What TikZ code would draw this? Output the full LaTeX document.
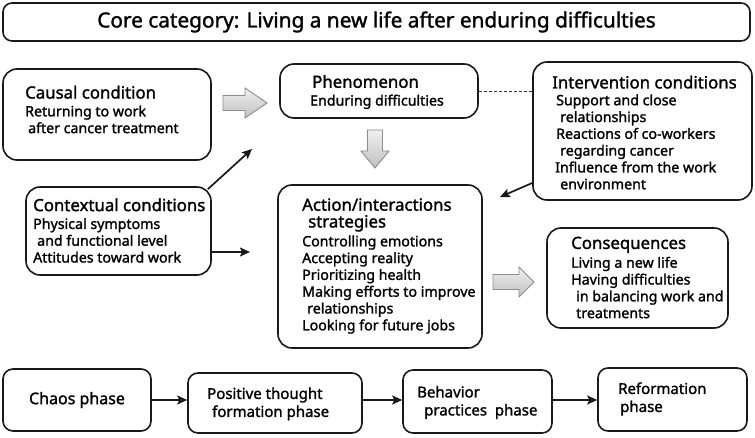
\documentclass[tikz,border=0pt]{standalone}
\usepackage{fontspec}
\setmainfont{Noto Sans}[UprightFeatures={FakeBold=1.5}]
\usetikzlibrary{arrows.meta,calc}

\tikzset{
  box/.style={draw=black!90, line width=1.6pt, rounded corners=14pt, inner sep=0pt},
  phasebox/.style={box, rounded corners=10pt},
  txt/.style={anchor=west, align=left, inner sep=0pt, font=\fontsize{14.2}{16.8}\selectfont},
  phasetxt/.style={txt, font=\fontsize{15}{18}\selectfont},
  arr/.style={-{Stealth[length=10pt,width=9pt,inset=2pt]}, line width=1.7pt, black!90},
  fat/.style={draw=gray!90, line width=0.9pt, top color=gray!12, bottom color=gray!50,
    line join=miter}
}
\newcommand{\hd}[1]{{\fontsize{16.8}{19}\selectfont #1}}

\begin{document}
\begin{tikzpicture}[x=1pt,y=-1pt]
  \useasboundingbox (0,0) rectangle (755,438);

  % core category
  \node[box, rounded corners=9pt, minimum width=747pt, minimum height=38pt,
    font=\fontsize{20.8}{24}\selectfont] (core) at (376.5,22)
    {Core category: Living a new life after enduring difficulties};

  % paradigm model
  \node[box, minimum width=208pt, minimum height=91pt] (causal) at (107,114.5) {};
  \node[box, minimum width=185pt, minimum height=88pt] (ctx) at (118.5,231) {};
  \node[box, minimum width=198pt, minimum height=54pt] (phen) at (379,91) {};
  \node[box, minimum width=219pt, minimum height=138pt] (interv) at (642.5,131) {};
  \node[box, minimum width=204pt, minimum height=163pt] (action) at (380,266.5) {};
  \node[box, minimum width=181pt, minimum height=100pt] (cons) at (637.5,278) {};

  \node[txt] (causaltxt) at (25,109.5)
    {\hd{Causal condition}\\[1pt] Returning to work\\ \hspace*{3pt}after cancer treatment};
  \node[txt] (ctxtxt) at (33,230.5)
    {\hd{Contextual conditions}\\[1pt] Physical symptoms\\ \hspace*{4pt}and functional level\\
     Attitudes toward work};
  \node[txt] (phentxt) at (310,92)
    {\hd{\hspace*{2pt}Phenomenon}\\[1pt] Enduring difficulties};
  \node[txt] (intervtxt) at (552,132.5)
    {\hd{Intervention conditions}\\ \hspace*{4pt}Support and close\\ \hspace*{8pt}relationships\\
     \hspace*{4pt}Reactions of co-workers\\ \hspace*{8pt}regarding cancer\\
     \hspace*{3pt}Influence from the work\\ \hspace*{8pt}environment};
  \node[txt] (actiontxt) at (302,266)
    {\hd{Action/interactions}\\ \hd{\hspace*{6pt}strategies}\\[2pt] Controlling emotions\\
     Accepting reality\\ Prioritizing health\\ Making efforts to improve\\
     \hspace*{5pt}relationships\\ Looking for future jobs};
  \node[txt] (constxt) at (571,277.5)
    {\hd{Consequences}\\[2pt] Living a new life\\ Having difficulties\\
     \hspace*{5pt}in balancing work and\\ \hspace*{5pt}treatments};

  % block arrows
  \draw[fat] (223,95.5) -- (245,95.5) -- (245,88) -- (267,103) -- (245,118)
    -- (245,110.5) -- (223,110.5) -- cycle;
  \draw[fat] (367.5,130) -- (382.5,130) -- (382.5,151) -- (389,151) -- (375,168)
    -- (361,151) -- (367.5,151) -- cycle;
  \draw[fat] (493,274.5) -- (519,274.5) -- (519,267) -- (534,282) -- (519,297)
    -- (519,289.5) -- (493,289.5) -- cycle;

  % thin arrows
  \coordinate (ctxtip) at (252,149);
  \coordinate (acttip) at (250,252);
  \coordinate (intip) at (500,197);
  \draw[arr] ([xshift=-4pt,yshift=-3pt]ctx.north east) -- (ctxtip);
  \draw[arr] (ctx.east |- acttip) -- (acttip);
  \draw[arr] ([yshift=-52pt]interv.west) -- (intip);
  \draw[black!80, line width=0.9pt, dash pattern=on 3pt off 2pt]
    (phen.east) -- (phen.east -| interv.west);

  % phases
  \node[phasebox, minimum width=148pt, minimum height=62pt,
    font=\fontsize{16}{19}\selectfont] (chaos) at (77,400) {Chaos phase};
  \node[phasebox, minimum width=174pt, minimum height=60pt] (pos) at (275,403) {};
  \node[phasebox, minimum width=149pt, minimum height=63pt] (behav) at (477.5,401.5) {};
  \node[phasebox, minimum width=149pt, minimum height=63pt] (reform) at (672.5,399.5) {};

  \node[phasetxt] (postxt) at (207,404) {Positive thought\\ \hspace*{5pt}formation phase};
  \node[phasetxt] (behavtxt) at (417,402.5) {Behavior\\ \hspace*{7pt}practices\ \ phase};
  \node[phasetxt] (reformtxt) at (618,399) {Reformation\\ \hspace*{2pt}phase};

  \draw[arr] (chaos.east) -- (chaos.east -| pos.west);
  \draw[arr] (pos.east |- chaos.east) -- (chaos.east -| behav.west);
  \draw[arr] (behav.east |- chaos.east) -- (chaos.east -| reform.west);
\end{tikzpicture}
\end{document}
